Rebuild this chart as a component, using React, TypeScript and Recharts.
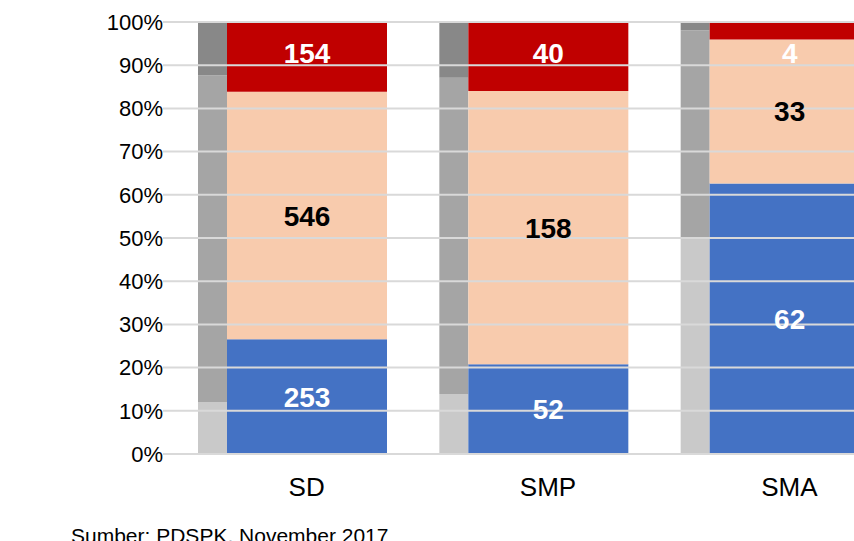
import React from 'react';
import { BarChart, Bar, XAxis, YAxis, ReferenceLine, LabelList } from 'recharts';

const categories = ['SD', 'SMP', 'SMA'];
const blueCounts = [253, 52, 62];
const peachCounts = [546, 158, 33];
const redCounts = [154, 40, 4];
const grayLight = [12, 13.9, 50];
const grayMid = [75.7, 73.2, 48.1];
const grayDark = [12.3, 12.9, 1.9];
const yTicks = [0, 10, 20, 30, 40, 50, 60, 70, 80, 90, 100];

const data = categories.map((c, i) => {
  const total = blueCounts[i] + peachCounts[i] + redCounts[i];
  return {
    name: c,
    gL: grayLight[i],
    gM: grayMid[i],
    gD: grayDark[i],
    blue: (blueCounts[i] / total) * 100,
    peach: (peachCounts[i] / total) * 100,
    red: (redCounts[i] / total) * 100,
    blueN: blueCounts[i],
    peachN: peachCounts[i],
    redN: redCounts[i],
    dummy: 0,
  };
});

const FONT = '"Liberation Sans", Arial, sans-serif';

const makeLabel = (key: 'blueN' | 'peachN' | 'redN', color: string, shift: number) => (props: any) => {
  const { x, y, width, height, index } = props;
  const value = data[index][key];
  let cy = y + height / 2 + shift;
  if (height < 30) cy = y + height + 14;
  return (
    <text
      x={x + width / 2}
      y={cy}
      dy="0.355em"
      textAnchor="middle"
      fill={color}
      fontFamily={FONT}
      fontWeight="bold"
      fontSize={28}
    >
      {value}
    </text>
  );
};

export default function App() {
  return (
    <div style={{ position: 'absolute', left: 0, top: 0, width: 854, height: 541, overflow: 'hidden', background: '#fff' }}>
      <BarChart
        width={910}
        height={541}
        data={data}
        margin={{ top: 22, right: 0, bottom: 0, left: 0 }}
        barGap={0}
      >
        <XAxis
          dataKey="name"
          height={87}
          padding={{ left: 23, right: 0 }}
          axisLine={{ stroke: '#d9d9d9', strokeWidth: 2 }}
          tickLine={false}
          tickSize={0}
          tickMargin={24}
          tick={{ fill: '#000', fontSize: 26, fontFamily: FONT }}
        />
        <YAxis
          width={163}
          domain={[0, 100]}
          ticks={yTicks}
          interval={0}
          axisLine={false}
          tickLine={false}
          tickSize={0}
          tickMargin={0}
          tickFormatter={(v: number) => `${v}%`}
          tick={{ fill: '#000', fontSize: 22, fontFamily: FONT }}
        />
        <Bar dataKey="gL" stackId="g" barSize={29} fill="#c9c9c9" isAnimationActive={false} />
        <Bar dataKey="gM" stackId="g" barSize={29} fill="#a5a5a5" isAnimationActive={false} />
        <Bar dataKey="gD" stackId="g" barSize={29} fill="#888888" isAnimationActive={false} />
        {yTicks.slice(1).map((t) => (
          <ReferenceLine key={t} y={t} stroke="#d9d9d9" strokeWidth={2} />
        ))}
        <Bar dataKey="blue" stackId="c" barSize={160} fill="#4472c4" isAnimationActive={false}>
          <LabelList content={makeLabel('blueN', '#fff', 0)} />
        </Bar>
        <Bar dataKey="peach" stackId="c" barSize={160} fill="#f8cbad" isAnimationActive={false}>
          <LabelList content={makeLabel('peachN', '#000', 0)} />
        </Bar>
        <Bar dataKey="red" stackId="c" barSize={160} fill="#c00000" isAnimationActive={false}>
          <LabelList content={makeLabel('redN', '#fff', -4)} />
        </Bar>
        <Bar dataKey="dummy" stackId="d" barSize={29} fill="none" isAnimationActive={false} />
      </BarChart>
      <div
        style={{
          position: 'absolute',
          left: 71,
          top: 525,
          fontFamily: FONT,
          fontSize: 21,
          lineHeight: 1,
          color: '#000',
          whiteSpace: 'nowrap',
        }}
      >
        Sumber: PDSPK, November 2017
      </div>
    </div>
  );
}
